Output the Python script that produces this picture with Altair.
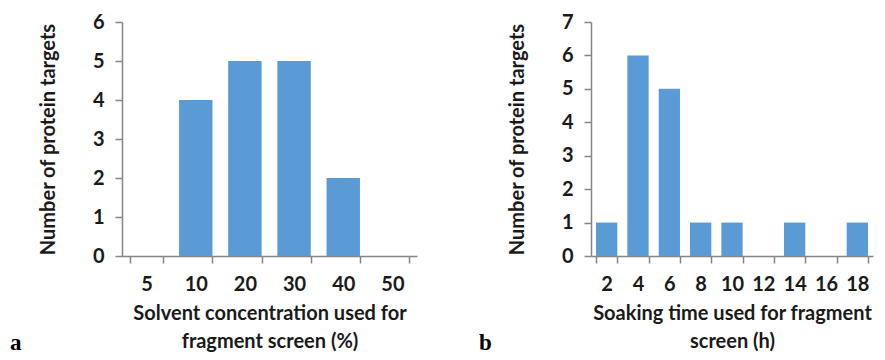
import altair as alt
import pandas as pd

conc_labels = ["5", "10", "20", "30", "40", "50"]
conc_counts = [0, 4, 5, 5, 2, 0]
soak_labels = ["2", "4", "6", "8", "10", "12", "14", "16", "18"]
soak_counts = [1, 6, 5, 1, 1, 0, 1, 0, 1]

FONT = "Lato"
BAR = "#5B9BD5"
AXIS = "#868686"
TXT = "#1a1a1a"


def panel(labels, counts, ymax, xtitle, letter, width):
    df = pd.DataFrame({"cat": labels, "n": counts})
    return alt.Chart(df).mark_bar(color=BAR).encode(
        x=alt.X(
            "cat:N",
            sort=labels,
            scale=alt.Scale(paddingInner=0.32, paddingOuter=0.16),
            axis=alt.Axis(
                title=xtitle,
                labelAngle=0,
                tickBand="extent",
                tickSize=7,
                labelPadding=11,
                titlePadding=9,
                titleLineHeight=28,
            ),
        ),
        y=alt.Y(
            "n:Q",
            scale=alt.Scale(domain=[0, ymax], nice=False),
            axis=alt.Axis(
                title="Number of protein targets",
                values=list(range(ymax + 1)),
                grid=False,
                tickSize=7,
                labelPadding=11,
                titlePadding=34,
            ),
        ),
    ).properties(
        width=width,
        height=234,
        title=alt.TitleParams(
            letter,
            orient="bottom",
            anchor="start",
            frame="group",
            dx=-112,
            dy=-19,
            offset=0,
            font="Liberation Serif",
            fontSize=23,
            fontWeight="bold",
            color="black",
        ),
    )


left = panel(conc_labels, conc_counts, 6,
             ["Solvent concentration used for", "fragment screen (%)"], "a", 295)
right = panel(soak_labels, soak_counts, 7,
              ["Soaking time used for fragment", "screen (h)"], "b", 282)

chart = alt.hconcat(left, right, spacing=62).properties(
    padding={"left": 2, "top": 4, "right": 2, "bottom": 0}
).configure_view(stroke=None).configure_axis(
    domainColor=AXIS,
    tickColor=AXIS,
    domainWidth=1.5,
    tickWidth=1.5,
    labelFont=FONT,
    titleFont=FONT,
    labelFontSize=20,
    titleFontSize=20,
    labelColor=TXT,
    titleColor=TXT,
    labelFontWeight="bold",
    titleFontWeight="bold",
)

chart.save("out.html", embed_options={"renderer": "svg", "actions": False})
